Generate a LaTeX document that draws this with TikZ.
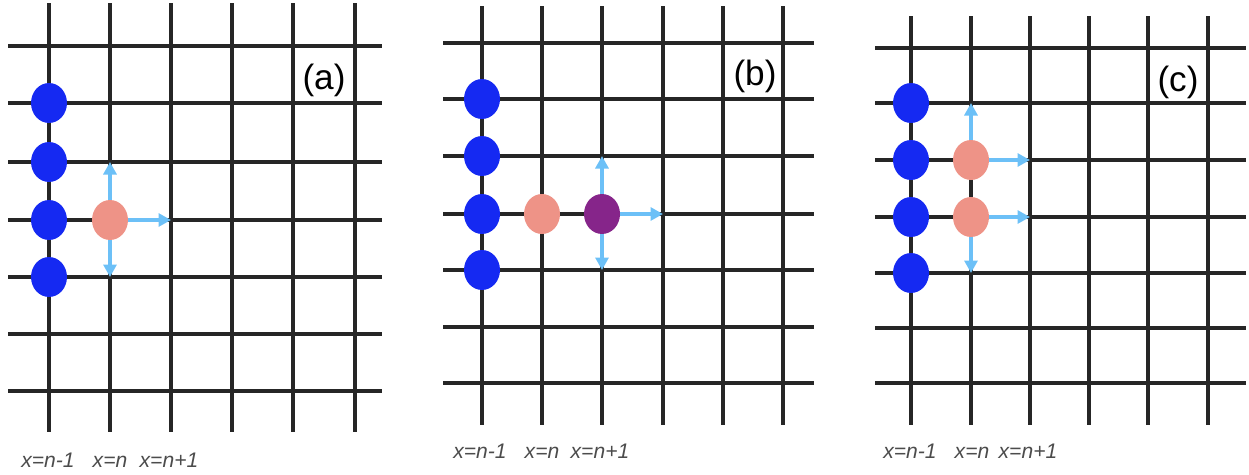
\documentclass[tikz,border=0pt]{standalone}
\usepackage{fontspec}
\setmainfont{Liberation Sans}
\usetikzlibrary{arrows.meta, shapes.geometric}

\definecolor{dotblue}{HTML}{1529F2}
\definecolor{dotred}{HTML}{EE9387}
\definecolor{dotpurple}{HTML}{86258A}
\definecolor{hopblue}{HTML}{6CC0F7}

\begin{document}
\begin{tikzpicture}[x=0.02cm, y=-0.02cm,
  gridline/.style={line width=1.9pt, black!85},
  site/.style={ellipse, minimum width=0.72cm, minimum height=0.8cm, inner sep=0pt},
  bluedot/.style={site, fill=dotblue},
  reddot/.style={site, fill=dotred},
  purpledot/.style={site, fill=dotpurple},
  hop/.style={hopblue, line width=2pt, -{Triangle[length=0.25cm, width=0.26cm]}},
  panel/.style={font=\fontsize{20}{22}\selectfont},
  colname/.style={anchor=base, font=\fontsize{12}{14}\selectfont\itshape, text=black!70}]

  \useasboundingbox (0,0) rectangle (1249,474);

  % ---------- Panel (a) ----------
  % Grid
  \foreach \x in {49,110,171,232,293,355}
    \draw[gridline] (\x,3) -- (\x,432);
  \foreach \y in {46,103,162,220,277,334,391}
    \draw[gridline] (8,\y) -- (382,\y);

  % Sites
  \foreach \y [count=\i] in {103,162,220,277}
    \node[bluedot] (a-b\i) at (49,\y) {};
  \node[reddot] (a-r) at (110,220) {};

  % Hops
  \coordinate (a-up) at (110,162);
  \coordinate (a-dn) at (110,277);
  \coordinate (a-rt) at (171,220);
  \draw[hop] (a-r) -- (a-up);
  \draw[hop] (a-r) -- (a-dn);
  \draw[hop] (a-r) -- (a-rt);

  % Labels
  \node[panel] (a-lab) at (324,80) {(a)};
  \node[colname] (a-c1) at (48,467) {x=n-1};
  \node[colname] (a-c2) at (110,467) {x=n};
  \node[colname] (a-c3) at (169,467) {x=n+1};

  % ---------- Panel (b) ----------
  % Grid
  \foreach \x in {482,542,602,663,723,783}
    \draw[gridline] (\x,6) -- (\x,425);
  \foreach \y in {43,99,156,214,270,327,383}
    \draw[gridline] (443,\y) -- (814,\y);

  % Sites
  \foreach \y [count=\i] in {99,156,214,270}
    \node[bluedot] (b-b\i) at (482,\y) {};
  \node[reddot] (b-r) at (542,214) {};
  \node[purpledot] (b-p) at (602,214) {};

  % Hops
  \coordinate (b-up) at (602,156);
  \coordinate (b-dn) at (602,270);
  \coordinate (b-rt) at (663,214);
  \draw[hop] (b-p) -- (b-up);
  \draw[hop] (b-p) -- (b-dn);
  \draw[hop] (b-p) -- (b-rt);

  % Labels
  \node[panel] (b-lab) at (755,76) {(b)};
  \node[colname] (b-c1) at (480,458) {x=n-1};
  \node[colname] (b-c2) at (542,458) {x=n};
  \node[colname] (b-c3) at (600,458) {x=n+1};

  % ---------- Panel (c) ----------
  % Grid
  \foreach \x in {911,971,1030,1089,1148,1208}
    \draw[gridline] (\x,16) -- (\x,425);
  \foreach \y in {48,103,160,217,273,328,383}
    \draw[gridline] (875,\y) -- (1246,\y);

  % Sites
  \foreach \y [count=\i] in {103,160,217,273}
    \node[bluedot] (c-b\i) at (911,\y) {};
  \node[reddot] (c-r1) at (971,160) {};
  \node[reddot] (c-r2) at (971,217) {};

  % Hops
  \coordinate (c-up) at (971,103);
  \coordinate (c-dn) at (971,273);
  \coordinate (c-rt1) at (1030,160);
  \coordinate (c-rt2) at (1030,217);
  \draw[hop] (c-r1) -- (c-up);
  \draw[hop] (c-r1) -- (c-rt1);
  \draw[hop] (c-r2) -- (c-rt2);
  \draw[hop] (c-r2) -- (c-dn);

  % Labels
  \node[panel] (c-lab) at (1178,82) {(c)};
  \node[colname] (c-c1) at (910,458) {x=n-1};
  \node[colname] (c-c2) at (972,458) {x=n};
  \node[colname] (c-c3) at (1028,458) {x=n+1};
\end{tikzpicture}
\end{document}
